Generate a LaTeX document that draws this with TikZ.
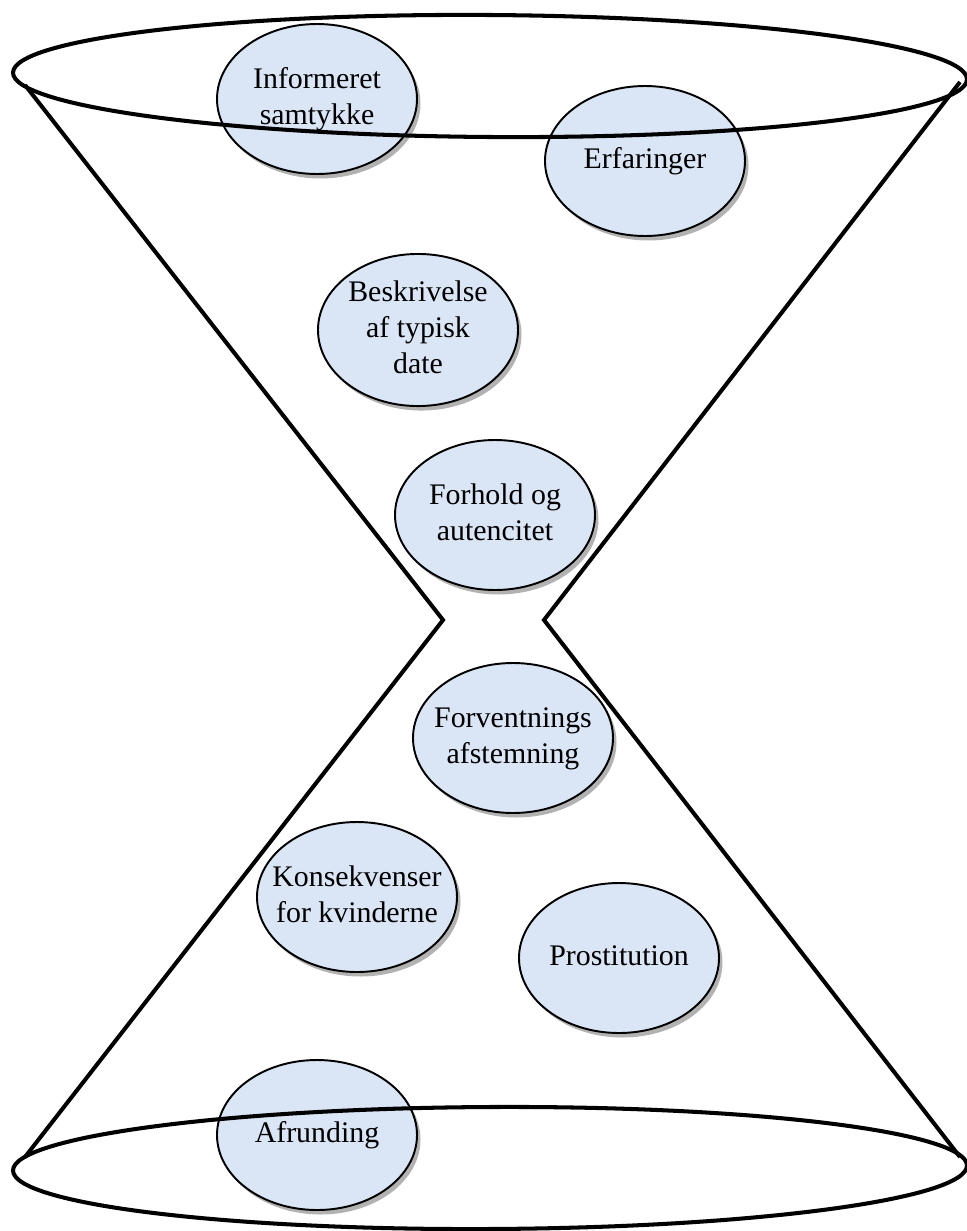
\documentclass[tikz,border=0pt]{standalone}
\usepackage{fontspec}
\setmainfont{Liberation Serif}
\usepackage{tikz}
\usetikzlibrary{positioning, shapes.geometric, shadows}
\definecolor{topicblue}{HTML}{DAE5F6}
\tikzstyle{topic} = [ellipse, draw=black, line width=1.1pt, fill=topicblue, minimum width=4cm, minimum height=3cm, inner sep=0pt, font=\fontsize{17}{20.4}\selectfont, drop shadow={shadow xshift=0.07cm, shadow yshift=-0.09cm, fill=black, opacity=0.3}]
\tikzstyle{rim} = [line width=2.3pt, line join=miter]
\newcommand{\ovaltext}[1]{\makebox[0pt]{\begin{tabular}{@{}c@{}}#1\end{tabular}}}

\begin{document}
\begin{tikzpicture}[node distance=1cm, on grid]
        \useasboundingbox (0,0) rectangle (19.34,-24.62);
        \node (inf) [topic] at (6.34,-1.98) {\ovaltext{Informeret\\samtykke}};
        \node (erf) [topic, below right=1.24cm and 6.56cm of inf] {\ovaltext{Erfaringer}};
        \node (besk) [topic, below right=4.62cm and 2.02cm of inf] {\ovaltext{Beskrivelse\\af typisk\\date}};
        \node (forh) [topic, below right=3.70cm and 1.54cm of besk] {\ovaltext{Forhold og\\autencitet}};
        \node (forv) [topic, below right=4.46cm and 0.36cm of forh] {\ovaltext{Forventnings\\afstemning}};
        \node (kons) [topic, below left=3.18cm and 3.12cm of forv] {\ovaltext{Konsekvenser\\for kvinderne}};
        \node (prost) [topic, below right=4.40cm and 2.12cm of forv] {\ovaltext{Prostitution}};
        \node (afr) [topic, below left=4.76cm and 0.80cm of kons] {\ovaltext{Afrunding}};

        % hourglass outline
        \coordinate (topc) at (9.8,-1.52);
        \coordinate (botc) at (9.8,-23.36);
        \coordinate (tl) at (0.50,-1.70);
        \coordinate (tr) at (19.20,-1.64);
        \coordinate (wl) at (8.86,-12.40);
        \coordinate (wr) at (10.88,-12.40);
        \coordinate (bl) at (0.50,-23.14);
        \coordinate (br) at (19.20,-23.14);

        \draw [rim] (tl) -- (wl) -- (bl);
        \draw [rim] (tr) -- (wr) -- (br);
        \draw [rim] (topc) ellipse [x radius=9.54, y radius=1.22, rotate=-0.4];
        \draw [rim] (botc) ellipse [x radius=9.54, y radius=1.22, rotate=0.3];
\end{tikzpicture}
\end{document}
